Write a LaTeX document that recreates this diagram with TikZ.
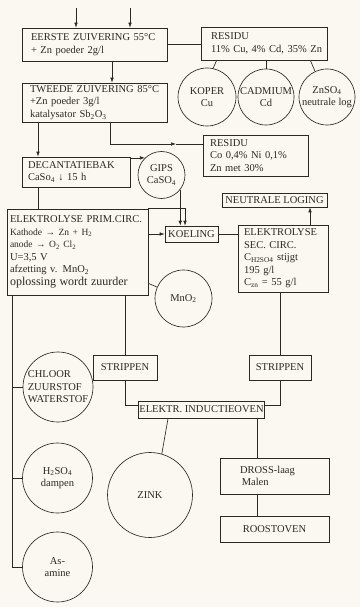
\documentclass[tikz,border=0pt]{standalone}
\usepackage{fontspec}
\setmainfont{Liberation Serif}
\usetikzlibrary{arrows.meta,calc}
\definecolor{paper}{RGB}{250,248,240}
\definecolor{ink}{RGB}{45,40,35}
\newcommand{\fs}{\fontsize{10.5}{12.5}\selectfont}
\newcommand{\sm}{\fontsize{9.5}{12.5}\selectfont}
\newcommand{\sub}[1]{\textsubscript{#1}}
\begin{document}
\begin{tikzpicture}[x=1pt,y=-1pt,line width=0.65pt,
  every node/.style={text=ink,font=\fs},
  box/.style={draw=ink,rectangle,inner ysep=1pt,align=left},
  cbox/.style={draw=ink,rectangle,inner sep=1pt,align=center},
  circ/.style={draw=ink,circle,inner sep=0pt,align=center},
  arr/.style={draw=ink,-{Latex[length=5pt,width=3.6pt]}},
  ln/.style={draw=ink}]
\fill[paper] (0,0) rectangle (360,607);
\useasboundingbox (0,0) rectangle (360,607);

% helper coordinates
\coordinate (in1) at (76,8);
\coordinate (in2) at (130,8);
\coordinate (x112) at (112,0);
\coordinate (j1) at (110,144);
\coordinate (am) at (176,144);
\coordinate (x38) at (38,0);
\coordinate (x185) at (185,0);
\coordinate (x310) at (310,0);
\coordinate (x12) at (12,0);
\coordinate (y405) at (0,405);
\coordinate (x257) at (257,0);

% boxes
\node[box,minimum height=33pt,text width=127pt,inner xsep=9pt] (b1) at (94.5,44.5)
  {\mbox{EERSTE ZUIVERING 55°C}\\+ Zn poeder 2g/l};
\node[box,minimum height=33pt,text width=106pt,inner xsep=10pt] (r1) at (264,43.5)
  {RESIDU\\\mbox{11\% Cu, 4\% Cd, 35\% Zn}};
\node[box,minimum height=39pt,text width=129pt,inner xsep=8pt] (b2) at (94.5,102.5)
  {\mbox{TWEEDE ZUIVERING 85°C}\\+Zn poeder 3g/l\\katalysator Sb\sub{2}O\sub{3}};
\node[box,minimum height=41pt,text width=91pt,inner xsep=7pt] (r2) at (255.5,155.5)
  {RESIDU\\\mbox{Co 0,4\% Ni 0,1\%}\\Zn met 30\%};
\node[box,minimum height=30pt,text width=96pt,inner xsep=6pt] (dec) at (76,172)
  {DECANTATIEBAK\\CaSo\sub{4} ↓ 15 h};
\node[box,minimum height=86pt,text width=135pt,inner xsep=3pt] (prim) at (77.5,252)
  {\mbox{ELEKTROLYSE PRIM.CIRC.}\\{\sm Kathode → Zn + H\sub{2}}\\{\sm anode → O\sub{2} Cl\sub{2}}\\U=3,5 V\\afzetting v. MnO\sub{2}\\\mbox{\fontsize{12}{13}\selectfont oplossing wordt zuurder}};
\node[cbox,minimum width=53pt,minimum height=16pt] (koel) at (191.5,234) {KOELING};
\node[cbox,minimum width=105pt,minimum height=14pt] (neut) at (274.5,200) {NEUTRALE LOGING};
\node[box,minimum height=67pt,text width=78pt,inner xsep=6pt] (sec) at (283,258.5)
  {ELEKTROLYSE\\SEC. CIRC.\\\mbox{C\sub{H2SO4} stijgt}\\195 g/l\\\mbox{C\sub{zn} = 55 g/l}};
\node[cbox,minimum width=64pt,minimum height=25pt] (s1) at (125,367.5) {STRIPPEN};
\node[cbox,minimum width=62pt,minimum height=25pt] (s2) at (280,367.5) {STRIPPEN};
\node[cbox,minimum width=123pt,minimum height=17pt] (ind) at (201.5,409.5) {ELEKTR. INDUCTIEOVEN};
\node[box,minimum height=36pt,text width=69pt,inner xsep=20pt] (dross) at (274.5,476)
  {DROSS-laag\\\,Malen};
\node[cbox,minimum width=109pt,minimum height=26pt] (roost) at (274.5,529) {ROOSTOVEN};

% circles
\node[circ,minimum size=58pt] (koper) at (207,97) {KOPER\\Cu};
\node[circ,minimum size=56pt] (cad) at (266,97) {CADMIUM\\Cd};
\node[circ,minimum size=56pt] (znso) at (327,97) {ZnSO\sub{4}\\neutrale log};
\node[circ,minimum size=47pt] (gips) at (161.5,175) {GIPS\\CaSO\sub{4}};
\node[circ,minimum size=57pt] (mno) at (183.5,298.5) {MnO\sub{2}};
\node[circ,minimum size=70pt,align=left] (chl) at (58,387) {CHLOOR\\ZUURSTOF\\WATERSTOF};
\node[circ,minimum size=70pt] (h2) at (57.5,478) {H\sub{2}SO\sub{4}\\dampen};
\node[circ,minimum size=70pt] (asam) at (57.5,567) {As-\\amine};
\node[circ,minimum size=85pt] (zink) at (150,495) {ZINK};

% connectors
\draw[arr] (in1) -- (in1 |- b1.north);
\draw[arr] (in2) -- (in2 |- b1.north);
\draw[ln] (b1.east) -- (b1.east -| r1.west);
\draw[arr] (b1.south -| x112) -- (b2.north -| x112);
\draw[ln] ([xshift=16pt]r1.south west) -- (koper.78);
\draw[ln] (r1.south -| cad.north) -- (cad.north);
\draw[ln] ([xshift=-17pt]r1.south east) -- (znso.115);
\draw[arr] (b2.south -| j1) -- (j1) -- (am);
\draw[ln] (am) -- (am -| r2.west);
\draw[arr] (b2.south -| x38) -- (dec.north -| x38);
\draw[ln] (dec.south -| x38) -- (prim.north -| x38);
\draw[arr] (dec.east |- gips.134) -- (gips.134);
\draw[arr] (gips.-38) -- (gips.-38 |- koel.north);
\draw[arr] (prim.north east) -- (prim.north east -| x185) -- (x185 |- koel.north);
\draw[arr] (koel.west -| prim.east) -- (koel.west);
\draw[ln] (koel.east) -- (koel.east -| sec.west);
\draw[arr] (sec.north -| x310) -- (neut.south -| x310);
\draw[ln] ([yshift=12pt]prim.south east) -- (mno);
\draw[ln] (prim.south -| x12) -- (x12 |- asam.west) -- (asam.west);
\draw[ln] (x12 |- chl.west) -- (chl.west);
\draw[ln] (x12 |- h2.west) -- (h2.west);
\draw[ln] (prim.south -| s1.north) -- (s1.north);
\draw[ln] (s1.south) -- (s1.south |- y405) -- (y405 -| ind.west);
\draw[ln] (sec.south -| s2.north) -- (s2.north);
\draw[ln] (s2.south) -- (s2.south |- y405) -- (y405 -| ind.east);
\draw[ln] ([xshift=30pt]ind.south west) -- (zink.74);
\draw[ln] (ind.south -| x257) -- (dross.north -| x257);
\draw[ln] (dross.south -| x257) -- (roost.north -| x257);
\end{tikzpicture}
\end{document}
